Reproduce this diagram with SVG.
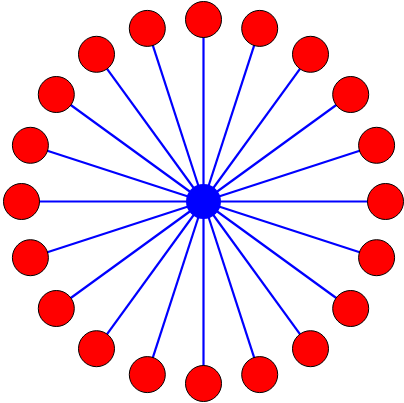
<svg xmlns="http://www.w3.org/2000/svg" width="404" height="403" viewBox="0 0 404 403">
<style>
.e{stroke:#0000ff;stroke-width:2.2}
.n{fill:#ff0000;stroke:#000;stroke-width:1}
.c{fill:#0000ff}
</style>
<rect width="404" height="403" fill="#fff"/>
<g id="edges">
<line class="e" x1="203.5" y1="201.5" x2="203.5" y2="19.5"/>
<line class="e" x1="203.5" y1="201.5" x2="259.7" y2="28.4"/>
<line class="e" x1="203.5" y1="201.5" x2="310.5" y2="54.3"/>
<line class="e" x1="203.5" y1="201.5" x2="350.7" y2="94.5"/>
<line class="e" x1="203.5" y1="201.5" x2="376.6" y2="145.3"/>
<line class="e" x1="203.5" y1="201.5" x2="385.5" y2="201.5"/>
<line class="e" x1="203.5" y1="201.5" x2="376.6" y2="257.7"/>
<line class="e" x1="203.5" y1="201.5" x2="350.7" y2="308.5"/>
<line class="e" x1="203.5" y1="201.5" x2="310.5" y2="348.7"/>
<line class="e" x1="203.5" y1="201.5" x2="259.7" y2="374.6"/>
<line class="e" x1="203.5" y1="201.5" x2="203.5" y2="383.5"/>
<line class="e" x1="203.5" y1="201.5" x2="147.3" y2="374.6"/>
<line class="e" x1="203.5" y1="201.5" x2="96.5" y2="348.7"/>
<line class="e" x1="203.5" y1="201.5" x2="56.3" y2="308.5"/>
<line class="e" x1="203.5" y1="201.5" x2="30.4" y2="257.7"/>
<line class="e" x1="203.5" y1="201.5" x2="21.5" y2="201.5"/>
<line class="e" x1="203.5" y1="201.5" x2="30.4" y2="145.3"/>
<line class="e" x1="203.5" y1="201.5" x2="56.3" y2="94.5"/>
<line class="e" x1="203.5" y1="201.5" x2="96.5" y2="54.3"/>
<line class="e" x1="203.5" y1="201.5" x2="147.3" y2="28.4"/>
</g>
<g id="hub"><circle class="c" cx="203.5" cy="201.5" r="17.5"/></g>
<g id="n0"><circle class="n" cx="203.5" cy="19.5" r="18"/></g>
<g id="n1"><circle class="n" cx="259.7" cy="28.4" r="18"/></g>
<g id="n2"><circle class="n" cx="310.5" cy="54.3" r="18"/></g>
<g id="n3"><circle class="n" cx="350.7" cy="94.5" r="18"/></g>
<g id="n4"><circle class="n" cx="376.6" cy="145.3" r="18"/></g>
<g id="n5"><circle class="n" cx="385.5" cy="201.5" r="18"/></g>
<g id="n6"><circle class="n" cx="376.6" cy="257.7" r="18"/></g>
<g id="n7"><circle class="n" cx="350.7" cy="308.5" r="18"/></g>
<g id="n8"><circle class="n" cx="310.5" cy="348.7" r="18"/></g>
<g id="n9"><circle class="n" cx="259.7" cy="374.6" r="18"/></g>
<g id="n10"><circle class="n" cx="203.5" cy="383.5" r="18"/></g>
<g id="n11"><circle class="n" cx="147.3" cy="374.6" r="18"/></g>
<g id="n12"><circle class="n" cx="96.5" cy="348.7" r="18"/></g>
<g id="n13"><circle class="n" cx="56.3" cy="308.5" r="18"/></g>
<g id="n14"><circle class="n" cx="30.4" cy="257.7" r="18"/></g>
<g id="n15"><circle class="n" cx="21.5" cy="201.5" r="18"/></g>
<g id="n16"><circle class="n" cx="30.4" cy="145.3" r="18"/></g>
<g id="n17"><circle class="n" cx="56.3" cy="94.5" r="18"/></g>
<g id="n18"><circle class="n" cx="96.5" cy="54.3" r="18"/></g>
<g id="n19"><circle class="n" cx="147.3" cy="28.4" r="18"/></g>
</svg>
